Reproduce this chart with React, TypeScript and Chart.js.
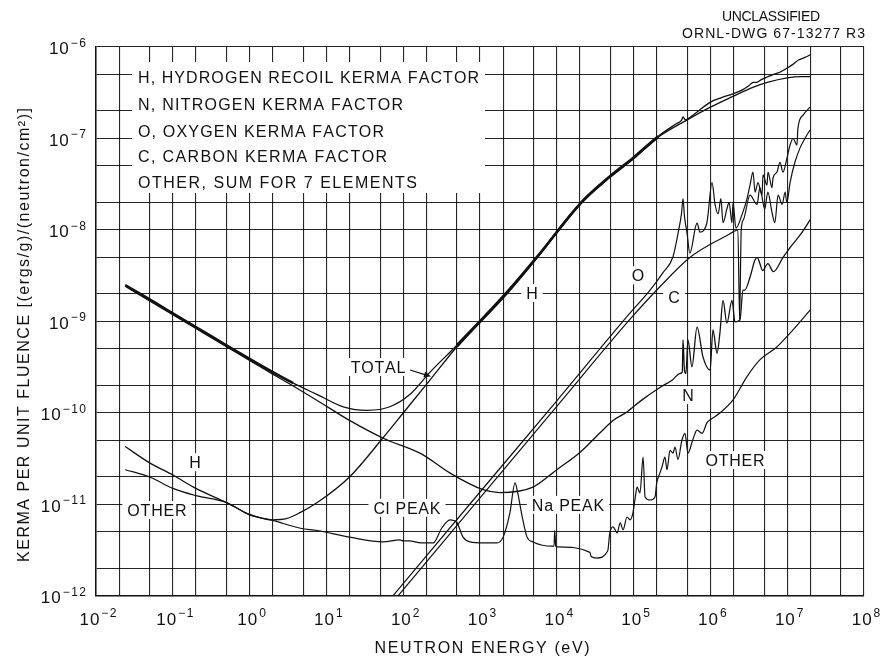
import React, { useEffect, useRef } from 'react';
import { Chart, registerables } from 'chart.js';

Chart.register(...registerables);

// ---------- axis ticks ----------
const X_GRID = [0.01, 0.02, 0.05, 0.1, 0.2, 0.5, 1, 2, 5, 10, 20, 50, 100, 200, 500, 1e3, 2e3, 5e3, 1e4, 2e4, 5e4, 1e5, 2e5, 5e5, 1e6, 2e6, 5e6, 1e7, 2e7, 5e7, 1e8];
const Y_GRID = [1e-12, 2e-12, 5e-12, 1e-11, 2e-11, 5e-11, 1e-10, 2e-10, 5e-10, 1e-9, 2e-9, 5e-9, 1e-8, 2e-8, 5e-8, 1e-7, 2e-7, 5e-7, 1e-6];
const X_LABEL_VALUES = [1e-2, 1e-1, 1, 1e1, 1e2, 1e3, 1e4, 1e5, 1e6, 1e7, 1e8];
const X_LABEL_EXPS = ['\u22122', '\u22121', '0', '1', '2', '3', '4', '5', '6', '7', '8'];
const Y_LABEL_VALUES = [1e-12, 1e-11, 1e-10, 1e-9, 1e-8, 1e-7, 1e-6];
const Y_LABEL_EXPS = ['\u221212', '\u221211', '\u221210', '\u22129', '\u22128', '\u22127', '\u22126'];

// ---------- series (energy in eV, kerma factor) ----------
const TOTAL_E = [0.024, 0.05, 0.1, 0.2, 0.5, 1, 2, 3.7, 7.5, 16.6, 34, 67, 123, 224, 500, 2.2e3, 5.5e3, 2.1e4, 4.9e4, 1e5, 2.1e5, 3.6e5, 4.2e5, 4.4e5, 4.7e5, 5.5e5, 7e5, 1e6, 1.4e6, 2e6, 2.6e6, 3.2e6, 3.6e6, 4e6, 4.6e6, 5.5e6, 6.5e6, 8e6, 1e7, 1.2e7, 1.4e7, 1.7e7, 2e7];
const TOTAL_K = [2.5e-9, 1.75e-9, 1.23e-9, 8.7e-10, 5.5e-10, 3.9e-10, 2.8e-10, 2.12e-10, 1.6e-10, 1.17e-10, 1.07e-10, 1.17e-10, 1.6e-10, 2.8e-10, 5.5e-10, 2.05e-9, 5.05e-9, 2.02e-8, 3.85e-8, 6.2e-8, 1.06e-7, 1.45e-7, 1.58e-7, 1.72e-7, 1.6e-7, 1.72e-7, 2.0e-7, 2.5e-7, 2.8e-7, 3.1e-7, 3.4e-7, 3.8e-7, 4.1e-7, 4.1e-7, 4.4e-7, 4.7e-7, 5.0e-7, 5.3e-7, 5.9e-7, 6.5e-7, 7.2e-7, 7.7e-7, 8.2e-7];

const H_E = [0.024, 0.05, 0.1, 0.2, 0.5, 1, 2, 3, 4.6, 7.6, 20, 55, 100, 224, 500, 2.2e3, 5.5e3, 2.1e4, 4.9e4, 1e5, 2.1e5, 5e5, 1e6, 2e6, 3.5e6, 5.5e6, 1e7, 1.5e7, 2e7];
const H_K = [4.3e-11, 2.85e-11, 2.1e-11, 1.5e-11, 1.05e-11, 7.8e-12, 6.8e-12, 7.0e-12, 8.2e-12, 1.05e-11, 2.0e-11, 5.4e-11, 1.0e-10, 2.3e-10, 5.3e-10, 2.0e-9, 5.0e-9, 2.0e-8, 3.8e-8, 6.1e-8, 1.04e-7, 1.6e-7, 2.2e-7, 2.9e-7, 3.6e-7, 4.1e-7, 4.6e-7, 4.75e-7, 4.75e-7];

const N_E = [0.024, 0.05, 0.1, 0.2, 0.5, 1, 2, 3.7, 7.5, 20, 55, 170, 410, 1.1e3, 1.8e3, 4.9e3, 1e4, 2e4, 3.6e4, 5.4e4, 8.1e4, 1.3e5, 2.2e5, 3.2e5, 4.0e5, 4.3e5, 4.4e5, 4.6e5, 4.8e5, 5.1e5, 5.75e5, 6.7e5, 8.0e5, 9.9e5, 1.08e6, 1.22e6, 1.33e6, 1.46e6, 1.64e6, 1.91e6, 2.09e6, 2.43e6, 2.65e6, 2.8e6, 3.3e6, 3.8e6, 4.1e6, 4.4e6, 4.8e6, 5.6e6, 6.6e6, 8.8e6, 1.1e7, 1.5e7, 2e7];
const N_K = [2.43e-9, 1.68e-9, 1.19e-9, 8.4e-10, 5.3e-10, 3.76e-10, 2.66e-10, 1.97e-10, 1.38e-10, 8.3e-11, 5.3e-11, 3.6e-11, 2.2e-11, 1.45e-11, 1.35e-11, 1.55e-11, 2.4e-11, 3.7e-11, 6.0e-11, 8.3e-11, 1.02e-10, 1.4e-10, 1.9e-10, 2.3e-10, 2.7e-10, 2.8e-10, 6.3e-10, 2.9e-10, 2.7e-10, 6.3e-10, 3.2e-10, 8.7e-10, 4.1e-10, 2.95e-10, 8.1e-10, 4.5e-10, 7.5e-10, 1.7e-9, 9.6e-10, 1.7e-9, 9.9e-10, 1.04e-9, 2.2e-9, 2.2e-9, 3.1e-9, 4.7e-9, 5.0e-9, 4.3e-9, 3.6e-9, 4.3e-9, 3.5e-9, 5.0e-9, 6.5e-9, 9.0e-9, 1.3e-8];

const O_E = [60, 1e3, 1e4, 9e4, 1.64e5, 2.4e5, 3.26e5, 3.8e5, 4.2e5, 4.4e5, 4.6e5, 4.96e5, 5.4e5, 6.7e5, 7.3e5, 9.0e5, 1.05e6, 1.15e6, 1.26e6, 1.37e6, 1.46e6, 1.64e6, 1.75e6, 1.91e6, 1.97e6, 2.15e6, 2.6e6, 3.0e6, 3.28e6, 3.59e6, 3.81e6, 4.17e6, 4.7e6, 4.84e6, 5.46e6, 5.62e6, 6.34e6, 6.53e6, 7.36e6, 8.05e6, 8.81e6, 9.93e6, 1.09e7, 1.19e7, 1.34e7, 1.38e7, 1.61e7, 1.98e7];
const O_K = [8.2e-13, 1.37e-11, 1.36e-10, 1.24e-9, 2.2e-9, 3.4e-9, 5.1e-9, 9.3e-9, 1.5e-8, 2.2e-8, 1.4e-8, 9.3e-9, 5.6e-9, 1.19e-8, 9.5e-9, 1.2e-8, 3.3e-8, 1.9e-8, 1.5e-8, 2.2e-8, 1.2e-8, 1.7e-8, 2.0e-8, 1.2e-8, 2.0e-8, 1.05e-8, 1.5e-8, 2.2e-8, 3.1e-8, 4.3e-8, 2.6e-8, 3.3e-8, 2.4e-8, 4.0e-8, 3.1e-8, 4.3e-8, 2.9e-8, 3.7e-8, 4.3e-8, 5.5e-8, 4.3e-8, 6.1e-8, 8.5e-8, 1.0e-7, 8.5e-8, 1.3e-7, 1.8e-7, 2.2e-7];

const C_E = [70, 1e3, 1e4, 9e4, 2.2e5, 5.4e5, 1.07e6, 1.6e6, 2.0e6, 2.28e6, 2.4e6, 2.52e6, 2.7e6, 3.28e6, 4.05e6, 4.4e6, 5.1e6, 5.6e6, 6.3e6, 6.9e6, 7.6e6, 8.6e6, 9.4e6, 9.9e6, 1.09e7, 1.26e7, 1.47e7, 1.7e7, 1.98e7];
const C_K = [8.2e-13, 1.18e-11, 1.18e-10, 1.06e-9, 2.4e-9, 5.0e-9, 7.2e-9, 8.6e-9, 9.6e-9, 1.0e-8, 1.05e-9, 1.0e-8, 1.3e-8, 2.4e-8, 1.9e-8, 2.9e-8, 1.7e-8, 2.6e-8, 1.6e-8, 1.2e-8, 2.4e-8, 1.9e-8, 2.6e-8, 2.0e-8, 3.3e-8, 5.5e-8, 7.9e-8, 1.0e-7, 1.24e-7];

const OTHER_E = [0.024, 0.05, 0.1, 0.2, 0.5, 1, 2, 4.6, 7.6, 20, 55, 90, 100, 120, 170, 245, 317, 406, 497, 601, 741, 1.09e3, 1.66e3, 2.0e3, 2.45e3, 2.86e3, 3.1e3, 3.55e3, 4.1e3, 4.9e3, 8.8e3, 9.2e3, 9.4e3, 9.7e3, 1.0e4, 2.7e4, 2.8e4, 3.3e4, 4.6e4, 4.9e4, 5.4e4, 6.1e4, 6.7e4, 7.3e4, 8.2e4, 9.0e4, 9.8e4, 1.04e5, 1.11e5, 1.21e5, 1.33e5, 1.41e5, 1.64e5, 1.9e5, 2.0e5, 2.2e5, 2.35e5, 2.56e5, 2.72e5, 2.98e5, 3.26e5, 3.46e5, 3.78e5, 4.27e5, 4.67e5, 5.1e5, 5.9e5, 6.7e5, 7.8e5, 9.0e5, 9.9e5, 1.33e6, 1.97e6, 3.0e6, 4.4e6, 7.4e6, 1.19e7, 2e7];
const OTHER_K = [2.4e-11, 2.0e-11, 1.5e-11, 1.25e-11, 1.05e-11, 7.7e-12, 6.7e-12, 5.5e-12, 5.2e-12, 4.4e-12, 3.9e-12, 4.1e-12, 4.0e-12, 4.0e-12, 3.8e-12, 3.8e-12, 5.5e-12, 6.8e-12, 6.4e-12, 4.4e-12, 3.9e-12, 3.8e-12, 3.8e-12, 4.4e-12, 8.1e-12, 1.72e-11, 1.34e-11, 7.3e-12, 4.4e-12, 3.9e-12, 3.5e-12, 3.5e-12, 5.2e-12, 3.5e-12, 3.45e-12, 3.0e-12, 2.7e-12, 2.6e-12, 3.1e-12, 4.9e-12, 5.7e-12, 4.9e-12, 6.3e-12, 5.3e-12, 7.3e-12, 6.8e-12, 8.1e-12, 1.12e-11, 1.55e-11, 1.34e-11, 3.3e-11, 1.21e-11, 1.12e-11, 1.21e-11, 1.72e-11, 2.2e-11, 2.6e-11, 3.3e-11, 2.4e-11, 3.9e-11, 3.65e-11, 4.25e-11, 3.1e-11, 5.1e-11, 6.0e-11, 3.65e-11, 5.1e-11, 6.5e-11, 6.0e-11, 7.8e-11, 8.4e-11, 1.0e-10, 1.39e-10, 2.5e-10, 3.8e-10, 5.3e-10, 8.1e-10, 1.34e-9];

// ---------- text ----------
const LEGEND_LINES = [
  'H, HYDROGEN RECOIL KERMA FACTOR',
  'N, NITROGEN KERMA FACTOR',
  'O, OXYGEN KERMA FACTOR',
  'C, CARBON KERMA FACTOR',
  'OTHER, SUM FOR 7 ELEMENTS',
];
const LEGEND_WIDTHS = [341, 265, 246, 249, 279];
const LABEL_TEXT = ['H', 'O', 'C', 'N', 'OTHER', 'TOTAL', 'H', 'OTHER', 'Cl PEAK', 'Na PEAK'];
const LABEL_E = [4.75e3, 1.14e5, 3.36e5, 5.1e5, 2.09e6, 47, 0.195, 0.0622, 112, 1.4e4];
const LABEL_K = [2.05e-9, 3.2e-9, 1.85e-9, 1.57e-10, 3.06e-11, 3.18e-10, 2.9e-11, 8.7e-12, 9.2e-12, 9.9e-12];
const ARROW_FROM = { e: 123, k: 2.95e-10 };
const ARROW_TO = { e: 230, k: 2.5e-10 };
const X_TITLE = 'NEUTRON ENERGY (eV)';
const Y_TITLE = 'KERMA PER UNIT FLUENCE [(ergs/g)/(neutron/cm\u00B2)]';
const STAMP_1 = 'UNCLASSIFIED';
const STAMP_2 = 'ORNL-DWG 67-13277 R3';

const FONT = '"Liberation Sans", Arial, Helvetica, sans-serif';
const INK = '#111';

function drawSpaced(ctx: CanvasRenderingContext2D, text: string, x: number, y: number, spacing: number, align: string) {
  const chars = [...text];
  const ws = chars.map((c) => ctx.measureText(c).width);
  const total = ws.reduce((a, b) => a + b, 0) + spacing * (chars.length - 1);
  let cx = align === 'left' ? x : align === 'center' ? x - total / 2 : x - total;
  ctx.textAlign = 'left';
  chars.forEach((c, i) => {
    ctx.fillText(c, cx, y);
    cx += ws[i] + spacing;
  });
  return total;
}
function spacedWidth(ctx: CanvasRenderingContext2D, text: string, spacing: number) {
  const chars = [...text];
  return chars.reduce((a, c) => a + ctx.measureText(c).width, 0) + spacing * (chars.length - 1);
}
function drawFit(ctx: CanvasRenderingContext2D, text: string, x: number, y: number, width: number, align: string) {
  const chars = [...text];
  const nat = spacedWidth(ctx, text, 0);
  const sp = chars.length > 1 ? (width - nat) / (chars.length - 1) : 0;
  drawSpaced(ctx, text, x, y, sp, align);
}
function powerWidth(ctx: CanvasRenderingContext2D, exp: string) {
  ctx.font = `17px ${FONT}`;
  const wb = spacedWidth(ctx, '10', 1);
  ctx.font = `12px ${FONT}`;
  const we = spacedWidth(ctx, exp, 1.5);
  return wb + 2 + we;
}
function drawPower(ctx: CanvasRenderingContext2D, exp: string, left: number, baseY: number, supY: number) {
  ctx.font = `17px ${FONT}`;
  const wb = drawSpaced(ctx, '10', left, baseY, 1, 'left');
  ctx.font = `12px ${FONT}`;
  drawSpaced(ctx, exp, left + wb + 2, supY, 1.5, 'left');
}

const annotations = {
  id: 'annotations',
  beforeDatasetsDraw(chart: any) {
    const { ctx, chartArea: a, scales } = chart;
    const xs = scales.x, ys = scales.y;
    ctx.save();
    // legend block
    ctx.fillStyle = '#fff';
    ctx.fillRect(a.left + 36, a.top + 15, 353, 131);
    ctx.fillStyle = INK;
    ctx.textBaseline = 'alphabetic';
    ctx.font = `16px ${FONT}`;
    const baselines = [36, 63, 90, 115, 141];
    LEGEND_LINES.forEach((t, i) => drawFit(ctx, t, a.left + 42, a.top + baselines[i], LEGEND_WIDTHS[i], 'left'));
    // in-plot labels with white backing
    LABEL_TEXT.forEach((t, i) => {
      const px = xs.getPixelForValue(LABEL_E[i]);
      const py = ys.getPixelForValue(LABEL_K[i]);
      ctx.font = `16px ${FONT}`;
      const w = spacedWidth(ctx, t, 0.8);
      ctx.fillStyle = '#fff';
      ctx.fillRect(px - w / 2 - 5, py - 9, w + 10, 18);
      ctx.fillStyle = INK;
      drawSpaced(ctx, t, px, py + 6, 0.8, 'center');
    });
    ctx.restore();
  },
  afterDatasetsDraw(chart: any) {
    const { ctx, scales } = chart;
    const xs = scales.x, ys = scales.y;
    const x0 = xs.getPixelForValue(ARROW_FROM.e), y0 = ys.getPixelForValue(ARROW_FROM.k);
    const x1 = xs.getPixelForValue(ARROW_TO.e), y1 = ys.getPixelForValue(ARROW_TO.k);
    const ang = Math.atan2(y1 - y0, x1 - x0);
    ctx.save();
    ctx.strokeStyle = INK;
    ctx.fillStyle = INK;
    ctx.lineWidth = 1.2;
    ctx.beginPath();
    ctx.moveTo(x0, y0);
    ctx.lineTo(x1 - 5 * Math.cos(ang), y1 - 5 * Math.sin(ang));
    ctx.stroke();
    ctx.beginPath();
    ctx.moveTo(x1, y1);
    ctx.lineTo(x1 - 7 * Math.cos(ang) + 3 * Math.sin(ang), y1 - 7 * Math.sin(ang) - 3 * Math.cos(ang));
    ctx.lineTo(x1 - 7 * Math.cos(ang) - 3 * Math.sin(ang), y1 - 7 * Math.sin(ang) + 3 * Math.cos(ang));
    ctx.closePath();
    ctx.fill();
    ctx.restore();
  },
  afterDraw(chart: any) {
    const { ctx, chartArea: a, scales } = chart;
    const xs = scales.x, ys = scales.y;
    ctx.save();
    ctx.fillStyle = INK;
    ctx.textBaseline = 'alphabetic';
    // y tick labels
    Y_LABEL_VALUES.forEach((v, i) => {
      const py = ys.getPixelForValue(v);
      const w = powerWidth(ctx, Y_LABEL_EXPS[i]);
      drawPower(ctx, Y_LABEL_EXPS[i], a.left - 10 - w, py + 7, py - 0.5);
    });
    // x tick labels
    X_LABEL_VALUES.forEach((v, i) => {
      const px = xs.getPixelForValue(v);
      const w = powerWidth(ctx, X_LABEL_EXPS[i]);
      drawPower(ctx, X_LABEL_EXPS[i], px + 2 - w / 2, a.bottom + 29, a.bottom + 21);
    });
    // titles
    ctx.font = `16px ${FONT}`;
    drawFit(ctx, X_TITLE, 482, 653, 215, 'center');
    ctx.save();
    ctx.translate(23, 335);
    ctx.rotate(-Math.PI / 2);
    drawFit(ctx, Y_TITLE, 0, 6, 454, 'center');
    ctx.restore();
    ctx.font = `14px ${FONT}`;
    drawFit(ctx, STAMP_1, 771, 21, 98, 'center');
    drawFit(ctx, STAMP_2, 773.5, 38, 183, 'center');
    ctx.restore();
  },
};

const series = (E: number[], K: number[]) => E.map((e, i) => ({ x: e, y: K[i] }));

export default function App() {
  const ref = useRef<HTMLCanvasElement>(null);
  useEffect(() => {
    const canvas = ref.current;
    if (!canvas) return;
    const gridStyle = {
      color: 'rgba(0,0,0,0.85)',
      lineWidth: 1.1,
      drawTicks: false,
    };
    const thickTotal = (c: any) => {
      const e = TOTAL_E[c.p0DataIndex];
      return e < 3 || (e >= 400 && e < 2.1e5) ? 2.6 : 1.3;
    };
    const thickH = (c: any) => {
      const e = H_E[c.p0DataIndex];
      return e >= 400 && e < 2.1e5 ? 2.4 : 1.3;
    };
    const base = { borderColor: INK, pointRadius: 0, cubicInterpolationMode: 'monotone' as const, fill: false };
    const chart = new Chart(canvas, {
      type: 'line',
      data: {
        datasets: [
          { ...base, label: 'TOTAL', data: series(TOTAL_E, TOTAL_K), borderWidth: 1.3, segment: { borderWidth: thickTotal } },
          { ...base, label: 'H', data: series(H_E, H_K), borderWidth: 1.3, segment: { borderWidth: thickH } },
          { ...base, label: 'N', data: series(N_E, N_K), borderWidth: 1.3 },
          { ...base, label: 'O', data: series(O_E, O_K), borderWidth: 1.2 },
          { ...base, label: 'C', data: series(C_E, C_K), borderWidth: 1.2 },
          { ...base, label: 'OTHER', data: series(OTHER_E, OTHER_K), borderWidth: 1.2 },
        ] as any,
      },
      options: {
        animation: false,
        responsive: false,
        devicePixelRatio: 1,
        layout: { padding: { top: 47, right: 17, left: 0, bottom: 0 } },
        plugins: { legend: { display: false }, tooltip: { enabled: false } },
        elements: { point: { radius: 0 } },
        scales: {
          x: {
            type: 'logarithmic',
            min: 1e-2,
            max: 1e8,
            ticks: { display: false },
            grid: gridStyle,
            border: { display: true, color: INK, width: 1.5 },
            afterBuildTicks: (s: any) => { s.ticks = X_GRID.map((value) => ({ value })); },
            afterFit: (s: any) => { s.height = 61; },
          },
          y: {
            type: 'logarithmic',
            min: 1e-12,
            max: 1e-6,
            ticks: { display: false },
            grid: gridStyle,
            border: { display: true, color: INK, width: 1.5 },
            afterBuildTicks: (s: any) => { s.ticks = Y_GRID.map((value) => ({ value })); },
            afterFit: (s: any) => { s.width = 96; },
          },
        },
      } as any,
      plugins: [annotations],
    });
    return () => chart.destroy();
  }, []);
  return (
    <div style={{ position: 'absolute', left: 0, top: 0, width: 881, height: 657, background: '#fff' }}>
      <canvas ref={ref} width={881} height={657} style={{ display: 'block', width: 881, height: 657 }} />
    </div>
  );
}
